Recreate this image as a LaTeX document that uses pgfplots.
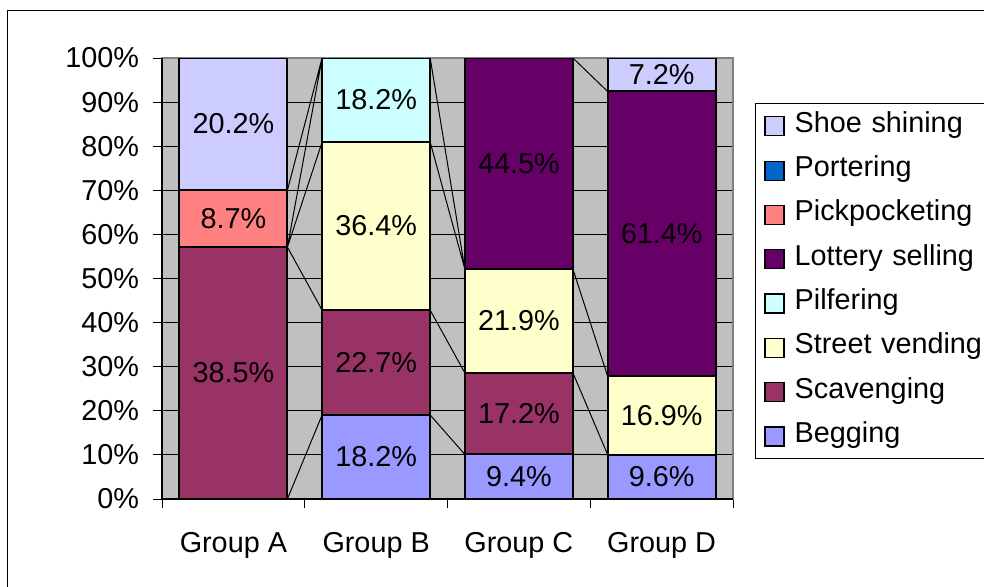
\documentclass[border=0pt]{standalone}
\usepackage{pgfplots}
\pgfplotsset{compat=1.18}
\usepackage{pgfplotstable}
\usepackage{fontspec}
\setmainfont{Liberation Sans}

\definecolor{plotbg}{HTML}{C0C0C0}
\definecolor{framegray}{HTML}{808080}
\definecolor{cbeg}{HTML}{9999FF}
\definecolor{cscav}{HTML}{993366}
\definecolor{cvend}{HTML}{FFFFCC}
\definecolor{cpilf}{HTML}{CCFFFF}
\definecolor{clott}{HTML}{660066}
\definecolor{cpick}{HTML}{FF8080}
\definecolor{cport}{HTML}{0066CC}
\definecolor{cshoe}{HTML}{CCCCFF}

% share (%) of each group's bar, bottom to top
\pgfplotstableread{
x beg scav vend pilf lott pick port shoe
0 0     57.12 0     0     0     12.91 0 29.97
1 19.06 23.77 38.11 19.06 0     0     0 0
2 10.11 18.49 23.55 0     47.85 0     0 0
3 10.09 0     17.77 0     64.56 0     0 7.58
}\shares

% values printed in the segments, at the middle of each segment
\pgfplotstableread{
x mid lab
0 28.56 38.5
0 63.58 8.7
0 85.02 20.2
1 9.53 18.2
1 30.95 22.7
1 61.89 36.4
1 90.47 18.2
2 5.06 9.4
2 19.36 17.2
2 40.38 21.9
2 76.08 44.5
3 5.05 9.6
3 18.98 16.9
3 60.14 61.4
3 96.21 7.2
}\labels

\newcommand{\fnt}{\fontsize{14.4}{16}\selectfont}

\begin{document}
\begin{tikzpicture}[x=1pt,y=1pt,font=\fnt]
\useasboundingbox (0,0) rectangle (492,-293);
\clip (0,0) rectangle (492,-293);
\draw[line width=0.6pt] (3.6,-600) -- (3.6,-5.1) -- (600,-5.1);

\pgfplotsset{
  box/.style={
    scale only axis, width=285.5pt, height=220.5pt,
    at={(81pt,-249.5pt)}, anchor=south west,
    xmin=-0.5, xmax=3.5, ymin=0, ymax=100,
  },
  seg/.style={fill=#1, draw=black, line width=1pt,
    legend image code/.code={\draw[fill=#1, draw=black, line width=0.6pt] (0pt,-4.75pt) rectangle (9.5pt,4.75pt);}},
}

\begin{axis}[
  box,
  ybar stacked, bar width=0.757,
  axis background/.style={fill=plotbg},
  axis line style={draw=framegray, line width=0.6pt},
  ymajorgrids, major grid style={black, line width=0.5pt},
  ytick={0,10,...,100},
  yticklabel={\pgfmathprintnumber{\tick}\%},
  xtick={-0.5,0.5,1.5,2.5,3.5},
  x tick label as interval,
  xticklabels={Group A,Group B,Group C,Group D},
  ytick pos=left, xtick pos=bottom,
  tick align=outside, major tick length=4.5pt,
  tick style={black, line width=0.5pt},
  /pgf/number format/assume math mode=true,
  tick label style={font=\fnt},
  yticklabel style={xshift=-3.5pt},
  xticklabel style={yshift=-8.5pt},
  reverse legend,
  legend cell align=left,
  legend style={at={(1.0385,0.897)}, anchor=north west, draw=black, line width=0.5pt,
    fill=white, font=\fnt, row sep=9.15pt, column sep=5pt, inner xsep=4.5pt, inner ysep=4.7pt,
    nodes={inner sep=0pt, text height=9.5pt, text depth=3.5pt, text width=115pt}},
  after end axis/.code={\draw[black, line width=0.6pt] (rel axis cs:0,1) -- (rel axis cs:0,0) -- (rel axis cs:1,0);},
]
\addplot[seg=cbeg] table[x=x, y=beg] {\shares};
\addlegendentry{Begging}
\addplot[seg=cscav] table[x=x, y=scav] {\shares};
\addlegendentry{Scavenging}
\addplot[seg=cvend] table[x=x, y=vend] {\shares};
\addlegendentry{Street vending}
\addplot[seg=cpilf] table[x=x, y=pilf] {\shares};
\addlegendentry{Pilfering}
\addplot[seg=clott] table[x=x, y=lott] {\shares};
\addlegendentry{Lottery selling}
\addplot[seg=cpick] table[x=x, y=pick] {\shares};
\addlegendentry{Pickpocketing}
\addplot[seg=cport] table[x=x, y=port] {\shares};
\addlegendentry{Portering}
\addplot[seg=cshoe] table[x=x, y=shoe] {\shares};
\addlegendentry{Shoe shining}
\end{axis}

% series lines joining the segment tops of neighbouring bars, and the value labels
\begin{axis}[box, hide axis, unbounded coords=jump]
\addplot[black, line width=0.5pt] coordinates {
(0.3785,0) (0.6215,19.06) (0.5,nan)
(0.3785,57.12) (0.6215,42.83) (0.5,nan)
(0.3785,57.12) (0.6215,80.94) (0.5,nan)
(0.3785,57.12) (0.6215,100) (0.5,nan)
(0.3785,70.03) (0.6215,100) (0.5,nan)
(1.3785,19.06) (1.6215,10.11) (1.5,nan)
(1.3785,42.83) (1.6215,28.60) (1.5,nan)
(1.3785,80.94) (1.6215,52.15) (1.5,nan)
(1.3785,100) (1.6215,52.15) (1.5,nan)
(2.3785,10.11) (2.6215,10.09) (2.5,nan)
(2.3785,28.60) (2.6215,10.09) (2.5,nan)
(2.3785,52.15) (2.6215,27.86) (2.5,nan)
(2.3785,100) (2.6215,92.42)
};
\addplot[draw=none, mark=none, point meta=explicit symbolic,
  nodes near coords={\pgfplotspointmeta\%}, nodes near coords align={center},
  every node near coord/.append style={anchor=center, font=\fnt, black}]
  table[x=x, y=mid, meta=lab] {\labels};
\end{axis}
\end{tikzpicture}
\end{document}
